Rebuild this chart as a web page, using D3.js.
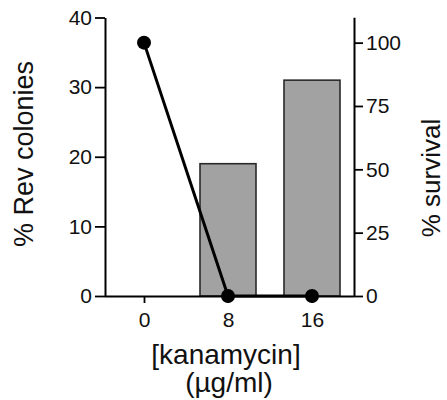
<!DOCTYPE html>
<html>
<head>
<meta charset="utf-8">
<script src="https://cdn.jsdelivr.net/npm/d3@7"></script>
<style>
  html, body { margin: 0; padding: 0; background: #fff; }
  svg { display: block; }
  text { font-family: "Liberation Sans", Arial, Helvetica, sans-serif; fill: #111; }
</style>
</head>
<body>
<svg id="chart" width="447" height="400"></svg>
<script>
// Data
const categories = ["0", "8", "16"];          // kanamycin (µg/ml)
const revColonies = [0, 19, 31];               // % Rev colonies (bars, left axis)
const survival = [100, 0, 0];                  // % survival (line, right axis)
const leftTicks = [0, 10, 20, 30, 40];
const rightTicks = [0, 25, 50, 75, 100];

const svg = d3.select("#chart");

const x = d3.scalePoint().domain(categories).range([144, 312]);
const yL = d3.scaleLinear().domain([0, 40]).range([296, 17.5]);
const yR = d3.scaleLinear().domain([0, 110]).range([296, 17.3]);

const axisLeftX = 105, axisRightX = 354;
const barW = 56;
const tickFont = 21;

// Bars
svg.append("g").selectAll("rect")
  .data(categories.map((c, i) => ({ c, v: revColonies[i] })).filter(d => d.v > 0))
  .join("rect")
  .attr("x", d => x(d.c) - barW / 2)
  .attr("width", barW)
  .attr("y", d => yL(d.v))
  .attr("height", d => yL(0) - yL(d.v))
  .attr("fill", "#a2a2a2")
  .attr("stroke", "#2a2a2a")
  .attr("stroke-width", 1.6);

// Left axis
const gL = svg.append("g").attr("transform", `translate(${axisLeftX},0)`)
  .call(d3.axisLeft(yL).tickValues(leftTicks).tickSize(10).tickSizeOuter(0).tickPadding(3));
// Right axis
const gR = svg.append("g").attr("transform", `translate(${axisRightX},0)`)
  .call(d3.axisRight(yR).tickValues(rightTicks).tickSize(9).tickSizeOuter(0).tickPadding(3));
// Bottom axis
const gB = svg.append("g").attr("transform", `translate(0,${yL(0)})`)
  .call(d3.axisBottom(x).tickSize(7).tickSizeOuter(0).tickPadding(5));
gB.select(".domain").attr("d", `M${axisLeftX},0.5H${axisRightX}`);

[gL, gR, gB].forEach(g => {
  g.selectAll(".domain").attr("stroke", "#000").attr("stroke-width", 2);
  g.selectAll(".tick line").attr("stroke", "#000").attr("stroke-width", 1.8);
  g.selectAll(".tick text")
    .attr("fill", "#111")
    .style("font-family", '"Liberation Sans", Arial, Helvetica, sans-serif')
    .style("font-size", tickFont + "px");
});
gB.selectAll(".tick text").attr("dy", "0.9em");

// Survival line
const pts = categories.map((c, i) => [x(c), yR(survival[i])]);
svg.append("path")
  .attr("d", d3.line()(pts))
  .attr("fill", "none")
  .attr("stroke", "#000")
  .attr("stroke-width", 3);
svg.append("g").selectAll("circle")
  .data(pts)
  .join("circle")
  .attr("cx", d => d[0])
  .attr("cy", d => d[1])
  .attr("r", 7)
  .attr("fill", "#000");

// Axis titles
svg.append("text")
  .attr("transform", "translate(33,154) rotate(-90)")
  .attr("text-anchor", "middle")
  .style("font-size", "27px")
  .text("% Rev colonies");
svg.append("text")
  .attr("transform", "translate(440,178) rotate(-90)")
  .attr("text-anchor", "middle")
  .style("font-size", "26px")
  .text("% survival");
svg.append("text")
  .attr("x", 226).attr("y", 364)
  .attr("text-anchor", "middle")
  .style("font-size", "28px")
  .text("[kanamycin]");
svg.append("text")
  .attr("x", 229).attr("y", 392)
  .attr("text-anchor", "middle")
  .style("font-size", "28px")
  .text("(µg/ml)");
</script>
</body>
</html>
